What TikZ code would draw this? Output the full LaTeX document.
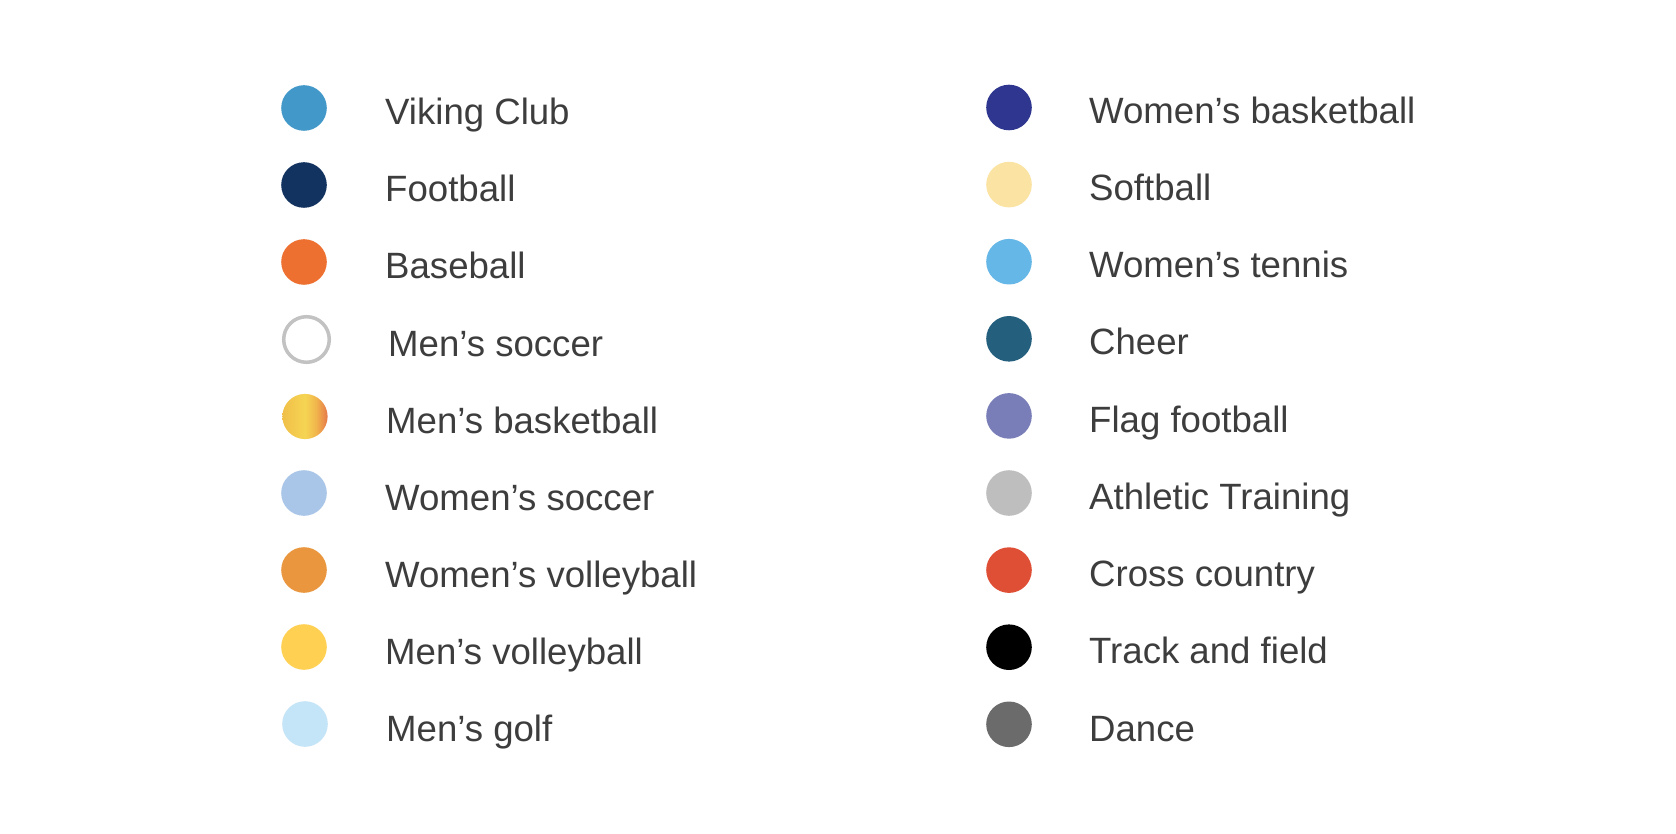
\documentclass[tikz,border=0pt]{standalone}
\usepackage{fontspec}
\setmainfont{Liberation Sans}
\definecolor{txt}{HTML}{3D3D3D}
\definecolor{cViking}{HTML}{4299C9}
\definecolor{cFootball}{HTML}{12325F}
\definecolor{cBaseball}{HTML}{EE7030}
\definecolor{cSoccerRing}{HTML}{C2C2C2}
\definecolor{cMBa}{HTML}{F0BF48}
\definecolor{cMBb}{HTML}{F6D553}
\definecolor{cMBm}{HTML}{F1B74C}
\definecolor{cMBc}{HTML}{E5784A}
\definecolor{cWSoccer}{HTML}{A9C5E7}
\definecolor{cWVolley}{HTML}{EA963E}
\definecolor{cMVolley}{HTML}{FFD052}
\definecolor{cMGolf}{HTML}{C4E4F7}
\definecolor{cWBasket}{HTML}{2E3690}
\definecolor{cSoftball}{HTML}{FAE3A3}
\definecolor{cWTennis}{HTML}{64B7E6}
\definecolor{cCheer}{HTML}{245F7E}
\definecolor{cFlag}{HTML}{7A7EB8}
\definecolor{cAthletic}{HTML}{BEBEBE}
\definecolor{cCross}{HTML}{DF4F35}
\definecolor{cTrack}{HTML}{000000}
\definecolor{cDance}{HTML}{6B6B6B}
\pgfdeclarehorizontalshading{mbshade}{100bp}{color(0bp)=(cMBa); color(25bp)=(cMBa); color(50bp)=(cMBb); color(62bp)=(cMBm); color(75bp)=(cMBc); color(100bp)=(cMBc)}
\begin{document}
\begin{tikzpicture}[x=1pt,y=-1pt,
  dot/.style={circle,inner sep=0pt,minimum size=45.6pt,fill=#1},
  lbl/.style={anchor=base west,inner sep=0pt,text=txt,font=\fontsize{36.6}{40}\selectfont}]
\useasboundingbox[fill=white] (0,0) rectangle (1676,834);
% left column
\node[dot=cViking] (d1) at (304,108) {};
\node[lbl] (t1) at (385,125) {Viking Club};
\node[dot=cFootball] (d2) at (304,185) {};
\node[lbl] (t2) at (385,202) {Football};
\node[dot=cBaseball] (d3) at (304,262) {};
\node[lbl] (t3) at (385,279) {Baseball};
\node[circle,inner sep=0pt,minimum size=45.6pt,draw=cSoccerRing,line width=3.5pt,fill=white] (d4) at (306.5,339.5) {};
\node[lbl] (t4) at (388,356) {Men’s soccer};
\shade[shading=mbshade] (305,416.5) circle[radius=22.6];
\coordinate (d5) at (305,416.5);
\node[lbl] (t5) at (386,433) {Men’s basketball};
\node[dot=cWSoccer] (d6) at (304,493) {};
\node[lbl] (t6) at (385,510) {Women’s soccer};
\node[dot=cWVolley] (d7) at (304,570) {};
\node[lbl] (t7) at (385,587) {Women’s volleyball};
\node[dot=cMVolley] (d8) at (304,647) {};
\node[lbl] (t8) at (385,664) {Men’s volleyball};
\node[dot=cMGolf] (d9) at (305,724) {};
\node[lbl] (t9) at (386,741) {Men’s golf};
% right column
\node[dot=cWBasket] (e1) at (1009,107.5) {};
\node[lbl] (u1) at (1089,124) {Women’s basketball};
\node[dot=cSoftball] (e2) at (1009,184.6) {};
\node[lbl] (u2) at (1089,201) {Softball};
\node[dot=cWTennis] (e3) at (1009,261.7) {};
\node[lbl] (u3) at (1089,278) {Women’s tennis};
\node[dot=cCheer] (e4) at (1009,338.8) {};
\node[lbl] (u4) at (1089,355) {Cheer};
\node[dot=cFlag] (e5) at (1009,415.9) {};
\node[lbl] (u5) at (1089,432) {Flag football};
\node[dot=cAthletic] (e6) at (1009,493) {};
\node[lbl] (u6) at (1089,509.5) {Athletic Training};
\node[dot=cCross] (e7) at (1009,570.1) {};
\node[lbl] (u7) at (1089,586.5) {Cross country};
\node[dot=cTrack] (e8) at (1009,647.2) {};
\node[lbl] (u8) at (1089,663.5) {Track and field};
\node[dot=cDance] (e9) at (1009,724.3) {};
\node[lbl] (u9) at (1089,741) {Dance};
\end{tikzpicture}
\end{document}
